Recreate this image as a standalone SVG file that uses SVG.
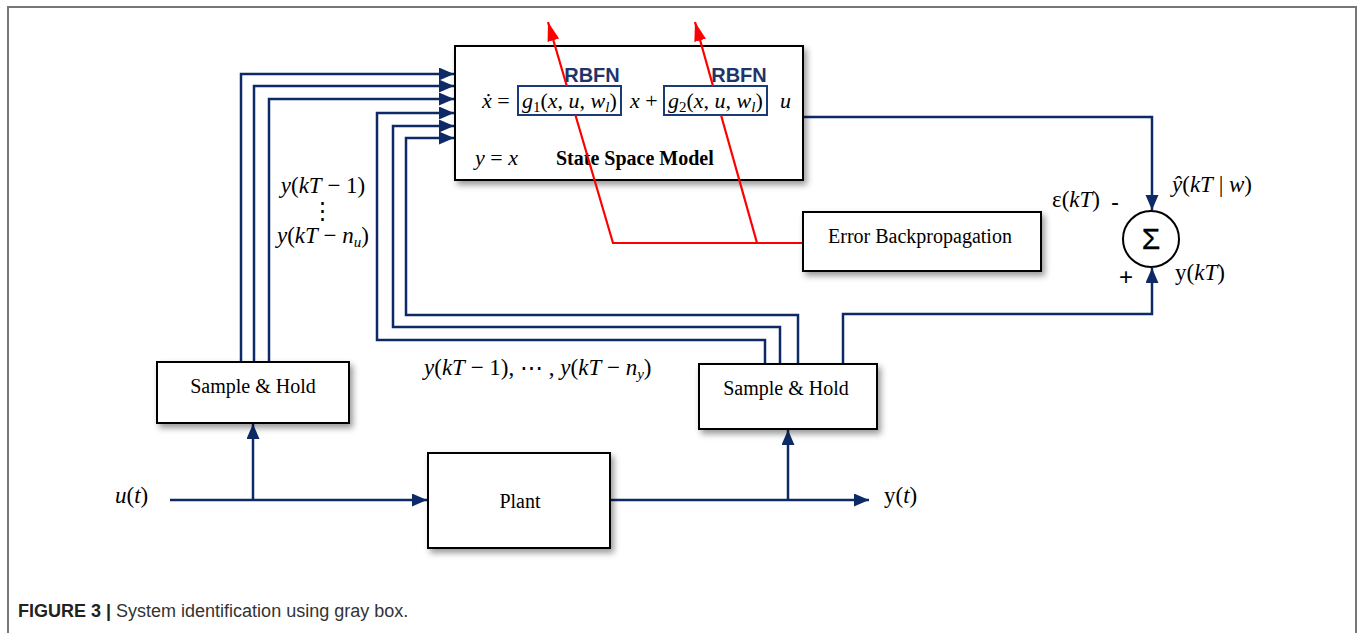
<svg xmlns="http://www.w3.org/2000/svg" width="1360" height="633" viewBox="0 0 1360 633">
<style>
.box{fill:#fff;stroke:#000;stroke-width:2}
.nv{fill:none;stroke:#0d2a66;stroke-width:2.5}
.rd{fill:none;stroke:#ff0000;stroke-width:2.2}
.gb{fill:#fff;stroke:#1a3a78;stroke-width:2}
.t{font-family:"Liberation Serif",serif;font-size:20px;fill:#000}
.tb{font-family:"Liberation Serif",serif;font-size:20px;font-weight:bold;fill:#000}
.m{font-family:"Liberation Serif",serif;font-size:22px;fill:#000}
.ml{font-family:"Liberation Serif",serif;font-size:23px;fill:#000}
.i{font-style:italic}
.rb{font-family:"Liberation Sans",sans-serif;font-size:20px;font-weight:bold;fill:#1f3468}
.cap{font-family:"Liberation Sans",sans-serif;font-size:18px;fill:#333}
</style>
<defs>
<filter id="sh" x="-10%" y="-10%" width="130%" height="140%">
<feDropShadow dx="3" dy="4" stdDeviation="3" flood-color="#000" flood-opacity="0.4"/>
</filter>
<marker id="an" markerUnits="userSpaceOnUse" markerWidth="16" markerHeight="14" refX="15" refY="6.5" orient="auto">
<path d="M0,0 L15,6.5 L0,13 z" fill="#0d2a66"/>
</marker>
<marker id="ar" markerUnits="userSpaceOnUse" markerWidth="20" markerHeight="14" refX="19" refY="6" orient="auto">
<path d="M0,0 L19,6 L0,12 z" fill="#ff0000"/>
</marker>
</defs>
<rect width="1360" height="633" fill="#fff"/>
<path d="M8,633 V7 H1356 V633" fill="none" stroke="#777" stroke-width="2"/>

<g id="connectors">
<path class="nv" d="M170,500 H427" marker-end="url(#an)"/>
<path class="nv" d="M253,500 V424" marker-end="url(#an)"/>
<path class="nv" d="M611,500 H869" marker-end="url(#an)"/>
<path class="nv" d="M788,500 V430" marker-end="url(#an)"/>
<path class="nv" d="M241,362 V74 H454" marker-end="url(#an)"/>
<path class="nv" d="M254,362 V86 H454" marker-end="url(#an)"/>
<path class="nv" d="M269,362 V99 H454" marker-end="url(#an)"/>
<path class="nv" d="M765,364 V340 H377 V113 H454" marker-end="url(#an)"/>
<path class="nv" d="M780,364 V327 H393 V126 H454" marker-end="url(#an)"/>
<path class="nv" d="M798,364 V315 H406 V138 H454" marker-end="url(#an)"/>
<path class="nv" d="M804,117 H1152 V210" marker-end="url(#an)"/>
<path class="nv" d="M843,364 V314 H1152 V268" marker-end="url(#an)"/>
</g>

<g id="state-space">
<rect class="box" x="455" y="46" width="348" height="134" filter="url(#sh)"/>
<text class="rb" x="592" y="82" text-anchor="middle">RBFN</text>
<text class="rb" x="739" y="82" text-anchor="middle">RBFN</text>
<text class="m" x="482" y="108"><tspan class="i">ẋ</tspan> =</text>
<rect class="gb" x="518" y="86" width="103" height="29"/>
<text class="m" x="522" y="108"><tspan class="i">g</tspan><tspan font-size="15" dy="4">1</tspan><tspan dy="-4">(</tspan><tspan class="i">x</tspan>, <tspan class="i">u</tspan>, <tspan class="i">w</tspan><tspan class="i" font-size="15" dy="4">l</tspan><tspan dy="-4">)</tspan></text>
<text class="m" x="630" y="108"><tspan class="i">x</tspan> +</text>
<rect class="gb" x="664" y="86" width="103" height="29"/>
<text class="m" x="668" y="108"><tspan class="i">g</tspan><tspan font-size="15" dy="4">2</tspan><tspan dy="-4">(</tspan><tspan class="i">x</tspan>, <tspan class="i">u</tspan>, <tspan class="i">w</tspan><tspan class="i" font-size="15" dy="4">l</tspan><tspan dy="-4">)</tspan></text>
<text class="m i" x="780" y="108">u</text>
<text class="m" x="475" y="165"><tspan class="i">y</tspan> = <tspan class="i">x</tspan></text>
<text class="tb" x="556" y="165">State Space Model</text>
</g>

<g id="backprop-lines">
<path class="rd" d="M803,243 H613 L575.4,115"/>
<path class="rd" d="M566.8,86 L548,22" marker-end="url(#ar)"/>
<path class="rd" d="M757,243 L721,115"/>
<path class="rd" d="M713,86 L695,22" marker-end="url(#ar)"/>
</g>

<g id="error-backprop">
<rect class="box" x="803" y="212" width="238" height="59" filter="url(#sh)"/>
<text class="t" x="920" y="243" text-anchor="middle">Error Backpropagation</text>
</g>

<g id="sum">
<circle cx="1151" cy="239" r="28" fill="#fff" stroke="#000" stroke-width="2"/>
<text x="1151" y="249" text-anchor="middle" font-family="Liberation Sans,sans-serif" font-size="30" fill="#000" stroke="#000" stroke-width="0.3">Σ</text>
<text class="ml" x="1172" y="192"><tspan class="i">ŷ</tspan>(<tspan class="i">kT</tspan> | <tspan class="i">w</tspan>)</text>
<text class="ml" x="1052" y="207">ε(<tspan class="i">kT</tspan>)</text>
<text font-family="Liberation Sans,sans-serif" font-size="24" x="1111" y="210">-</text>
<text font-family="Liberation Sans,sans-serif" font-size="24" x="1119" y="285">+</text>
<text class="ml" x="1175" y="280">y(<tspan class="i">kT</tspan>)</text>
</g>

<g id="sample-hold-left">
<rect class="box" x="157" y="362" width="192" height="61" filter="url(#sh)"/>
<text class="t" x="253" y="393" text-anchor="middle">Sample &amp; Hold</text>
</g>

<g id="sample-hold-right">
<rect class="box" x="699" y="364" width="178" height="65" filter="url(#sh)"/>
<text class="t" x="786" y="395" text-anchor="middle">Sample &amp; Hold</text>
</g>

<g id="plant">
<rect class="box" x="428" y="453" width="182" height="95" filter="url(#sh)"/>
<text class="t" x="520" y="508" text-anchor="middle">Plant</text>
</g>

<g id="labels">
<text class="ml" x="323" y="193" text-anchor="middle"><tspan class="i">y</tspan>(<tspan class="i">kT</tspan> − 1)</text>
<text class="ml" x="322" y="218" text-anchor="middle">⋮</text>
<text class="ml" x="323" y="243" text-anchor="middle"><tspan class="i">y</tspan>(<tspan class="i">kT</tspan> − <tspan class="i">n</tspan><tspan class="i" font-size="15" dy="4">u</tspan><tspan dy="-4">)</tspan></text>
<text class="ml" x="424" y="375"><tspan class="i">y</tspan>(<tspan class="i">kT</tspan> − 1), ⋯ , <tspan class="i">y</tspan>(<tspan class="i">kT</tspan> − <tspan class="i">n</tspan><tspan class="i" font-size="15" dy="4">y</tspan><tspan dy="-4">)</tspan></text>
<text class="ml" x="115" y="503"><tspan class="i">u</tspan>(<tspan class="i">t</tspan>)</text>
<text class="ml" x="884" y="503">y(<tspan class="i">t</tspan>)</text>
</g>

<text class="cap" x="18" y="617"><tspan font-weight="bold" fill="#222">FIGURE 3 |</tspan> System identification using gray box.</text>
</svg>
